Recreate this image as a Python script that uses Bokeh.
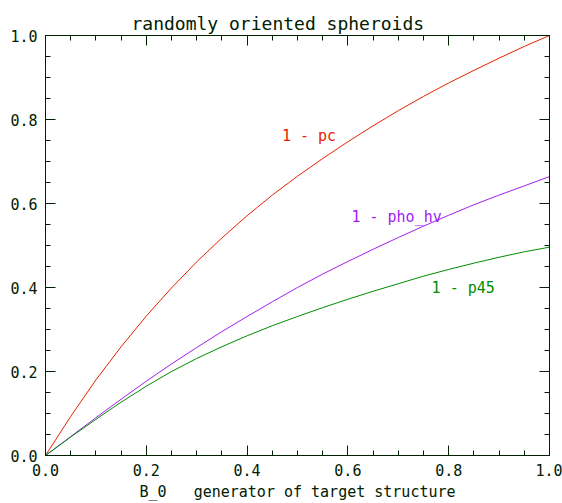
from bokeh.plotting import figure
from bokeh.models import (Range1d, LinearAxis, SingleIntervalTicker, Label, ColumnDataSource,
                          NumeralTickFormatter, CustomJSTickFormatter)
from bokeh.embed import file_html
from bokeh.resources import INLINE

# ---- data ----
b0 = [0.0, 0.05, 0.1, 0.15, 0.2, 0.25, 0.3, 0.35, 0.4, 0.45, 0.5,
      0.55, 0.6, 0.65, 0.7, 0.75, 0.8, 0.85, 0.9, 0.95, 1.0]
one_minus_pc = [0.0, 0.093, 0.180, 0.259, 0.332, 0.399, 0.461, 0.518, 0.571, 0.620, 0.665,
                0.707, 0.747, 0.785, 0.821, 0.855, 0.887, 0.917, 0.946, 0.974, 1.0]
one_minus_rhohv = [0.0, 0.045, 0.090, 0.134, 0.177, 0.218, 0.257, 0.295, 0.331, 0.366, 0.400,
                   0.432, 0.462, 0.491, 0.519, 0.546, 0.572, 0.597, 0.620, 0.642, 0.664]
one_minus_p45 = [0.0, 0.044, 0.086, 0.127, 0.165, 0.200, 0.231, 0.259, 0.285, 0.309, 0.331,
                 0.352, 0.372, 0.391, 0.409, 0.427, 0.443, 0.458, 0.472, 0.485, 0.496]

series_names = ["1 - pc", "1 - pho_hv", "1 - p45"]
title_text = "randomly oriented spheroids"
x_title = "B_0\u00a0\u00a0\u00a0generator of target structure"
tick_step = 0.2

AX = "#002000"
RED = "#e82000"
PURPLE = "#a020f0"
GREEN = "#008c00"
FONT = "DejaVu Sans Mono"

p = figure(width=562, height=503, output_backend="svg", toolbar_location=None,
           x_range=Range1d(0, 1), y_range=Range1d(0, 1),
           min_border_left=45, min_border_right=13, min_border_top=35, min_border_bottom=48,
           x_axis_type=None, y_axis_type=None)
p.background_fill_color = "white"
p.border_fill_color = "white"
p.outline_line_color = AX
p.outline_line_width = 1
p.xgrid.visible = False
p.ygrid.visible = False

p.title.text = title_text
p.title.align = "left"
p.title.text_font = FONT
p.title.text_font_size = "18px"
p.title.text_font_style = "normal"
p.title.text_color = AX
p.title.standoff = 4
p.title.offset = 86


def make_axis(show_labels, label=None):
    ax = LinearAxis(ticker=SingleIntervalTicker(interval=tick_step, num_minor_ticks=4))
    ax.axis_line_color = AX
    ax.major_tick_line_color = AX
    ax.minor_tick_line_color = AX
    ax.major_tick_in = 10
    ax.major_tick_out = 0
    ax.minor_tick_in = 5
    ax.minor_tick_out = 0
    ax.major_label_text_font = FONT
    ax.major_label_text_color = AX
    ax.major_label_text_font_size = "15px"
    if show_labels:
        ax.major_label_standoff = 8
        ax.formatter = NumeralTickFormatter(format="0.0")
    else:
        ax.major_label_standoff = 0
        ax.formatter = CustomJSTickFormatter(code="return ''")
    if label is not None:
        ax.axis_label = label
        ax.axis_label_text_font = FONT
        ax.axis_label_text_font_size = "15px"
        ax.axis_label_text_font_style = "normal"
        ax.axis_label_text_color = AX
        ax.axis_label_standoff = 4
    return ax


p.add_layout(make_axis(True, x_title), "below")
p.add_layout(make_axis(True), "left")
p.add_layout(make_axis(False), "above")
p.add_layout(make_axis(False), "right")

src = ColumnDataSource(dict(x=b0, pc=one_minus_pc, rh=one_minus_rhohv, p45=one_minus_p45))
p.line("x", "pc", source=src, line_color=RED, line_width=1)
p.line("x", "rh", source=src, line_color=PURPLE, line_width=1)
p.line("x", "p45", source=src, line_color=GREEN, line_width=1)

p.add_layout(Label(x=0.469, y=0.76, text=series_names[0], text_color=RED,
                   text_font=FONT, text_font_size="15px", text_baseline="alphabetic"))
p.add_layout(Label(x=0.607, y=0.567, text=series_names[1], text_color=PURPLE,
                   text_font=FONT, text_font_size="15px", text_baseline="alphabetic"))
p.add_layout(Label(x=0.766, y=0.40, text=series_names[2], text_color=GREEN,
                   text_font=FONT, text_font_size="15px", text_baseline="alphabetic"))

open("out.html", "w").write(file_html(p, INLINE))
